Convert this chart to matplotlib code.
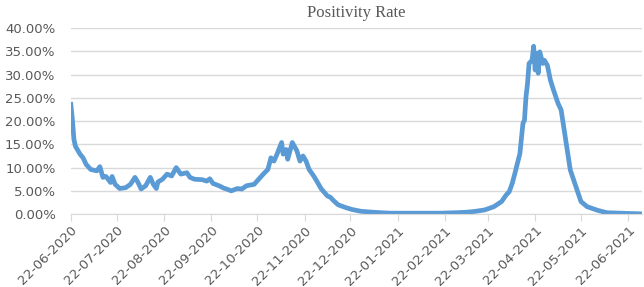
import numpy as np
import matplotlib
matplotlib.use("Agg")
import matplotlib.pyplot as plt
import matplotlib.dates as mdates
from matplotlib.ticker import PercentFormatter

# dias desde el 22-06-2020 y tasa de positividad (%)
start = np.datetime64("2020-06-22")
days = [0, 1, 2, 3, 6, 8, 10, 13, 17, 19, 21, 23, 26, 27, 29, 32, 36, 39, 42, 44,
        46, 49, 52, 54, 56, 57, 60, 63, 66, 69, 72, 76, 78, 81, 86, 89, 91, 93, 97, 100,
        102, 105, 109, 112, 115, 120, 123, 126, 129, 131, 133, 135, 138, 139, 141, 142,
        145, 148, 150, 152, 154, 156, 159, 161, 164, 168, 170, 172, 175, 180, 184, 190,
        198, 209, 220, 230, 242, 252, 259, 265, 271, 277, 282, 285, 287, 289, 291, 294,
        296, 297, 298, 299, 300, 302, 303, 304, 305, 306, 307, 309, 310, 312, 314, 316,
        319, 321, 323, 325, 327, 331, 334, 338, 345, 351, 364, 374]
rate = [23.6, 20.4, 16.1, 14.6, 12.9, 12.1, 10.7, 9.6, 9.3, 10.2, 7.9, 8.1, 6.8, 8.1,
        6.4, 5.5, 5.7, 6.4, 7.9, 6.8, 5.4, 6.1, 7.9, 6.4, 5.5, 6.9, 7.5, 8.6, 8.2, 10.0,
        8.6, 8.9, 7.9, 7.5, 7.4, 7.1, 7.6, 6.6, 6.1, 5.6, 5.4, 5.0, 5.5, 5.4, 6.1, 6.4,
        7.5, 8.6, 9.6, 12.1, 11.4, 12.9, 15.4, 12.9, 13.9, 11.8, 15.4, 13.6, 11.4, 12.5,
        11.4, 9.6, 8.2, 7.1, 5.4, 3.9, 3.6, 2.9, 2.0, 1.4, 1.0, 0.6, 0.4, 0.2, 0.2, 0.2,
        0.2, 0.3, 0.4, 0.6, 0.9, 1.6, 2.7, 4.1, 4.8, 6.6, 9.1, 13.0, 19.5, 20.2, 25.2,
        28.1, 32.4, 33.1, 36.1, 31.0, 34.6, 30.3, 34.9, 32.4, 33.1, 32.0, 28.8, 26.7,
        23.8, 22.4, 18.1, 13.8, 9.5, 5.6, 2.7, 1.6, 0.8, 0.3, 0.15, 0.05]

tick_dates = ["2020-06-22", "2020-07-22", "2020-08-22", "2020-09-22", "2020-10-22",
              "2020-11-22", "2020-12-22", "2021-01-22", "2021-02-22", "2021-03-22",
              "2021-04-22", "2021-05-22", "2021-06-22"]

dates = (start + np.array(days).astype("timedelta64[D]")).astype("datetime64[ms]").astype(object)
values = np.array(rate) / 100.0
ticks = [mdates.datestr2num(d) for d in tick_dates]

gris = "#595959"
fig = plt.figure(figsize=(6.44, 2.87), dpi=100)
ax = fig.add_axes([0.110, 0.254, 0.887, 0.648])

ax.plot(dates, values, color="#5B9BD5", linewidth=3.4, solid_joinstyle="round")

ax.set_ylim(0, 0.40)
ax.set_yticks(np.arange(0, 0.401, 0.05))
ax.yaxis.set_major_formatter(PercentFormatter(1.0, decimals=2))
ax.set_xlim(dates[0], dates[-1])
ax.set_xticks(ticks)
ax.xaxis.set_major_formatter(mdates.DateFormatter("%d-%m-%Y"))

ax.grid(axis="y", color="#d9d9d9", linewidth=1)
ax.set_axisbelow(True)
for s in ["top", "right", "left"]:
    ax.spines[s].set_visible(False)
ax.spines["bottom"].set_color("#d9d9d9")
ax.tick_params(axis="y", length=0, pad=11, labelsize=9.5, labelcolor=gris)
ax.tick_params(axis="x", length=5, color="#d9d9d9", labelsize=9.5, labelcolor=gris, pad=2)
for lab in ax.get_xticklabels():
    lab.set_rotation(45)
    lab.set_ha("right")
    lab.set_rotation_mode("anchor")

ax.set_title("Positivity Rate", family="Liberation Serif", fontsize=12, color=gris, pad=8)

plt.savefig("out.png", dpi=100)
